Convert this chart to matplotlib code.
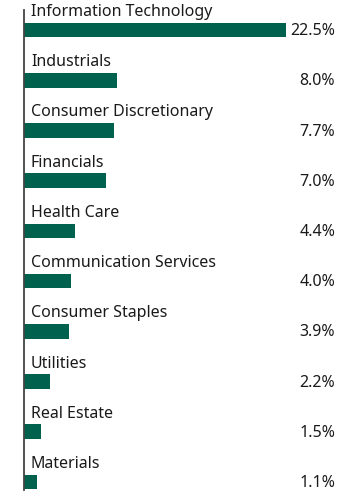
import matplotlib
matplotlib.use("Agg")
import matplotlib.pyplot as plt
import matplotlib.transforms as mtransforms

sectors = ["Information Technology", "Industrials", "Consumer Discretionary",
           "Financials", "Health Care", "Communication Services",
           "Consumer Staples", "Utilities", "Real Estate", "Materials"]
weights = [22.5, 8.0, 7.7, 7.0, 4.4, 4.0, 3.9, 2.2, 1.5, 1.1]

BAR_COLOR = "#00614f"
plt.rcParams["font.family"] = ["Noto Sans", "DejaVu Sans"]

W, H = 360, 497
fig = plt.figure(figsize=(W / 100, H / 100), dpi=100)
# axes: left edge at x=24px, 22.5% ends at x=286px; top 10px, bottom 490px
ax = fig.add_axes([24 / W, 7 / H, (286 - 24) / W, (490 - 10) / H])

y = list(range(len(sectors)))
ax.barh(y, weights, height=0.29, color=BAR_COLOR, align="center")
ax.set_xlim(0, 22.5)
ax.set_ylim(9.16, -0.4)

for s in ["top", "right", "bottom"]:
    ax.spines[s].set_visible(False)
ax.spines["left"].set_color("#444444")
ax.spines["left"].set_linewidth(1.3)
ax.set_xticks([])
ax.set_yticks([])

# labels above each bar, values right-aligned near the figure's right edge
lab_trans = mtransforms.blended_transform_factory(fig.transFigure, ax.transData)
for i, (name, v) in enumerate(zip(sectors, weights)):
    ax.text(31 / W, i - 0.2, name, transform=lab_trans, ha="left",
            va="bottom", fontsize=11.5, color="#1a1a1a")
    ax.text(335 / W, i + 0.02, f"{v:.1f}%", transform=lab_trans, ha="right",
            va="center", fontsize=11.5, color="#1a1a1a", clip_on=False)

fig.savefig("out.png", dpi=100)
